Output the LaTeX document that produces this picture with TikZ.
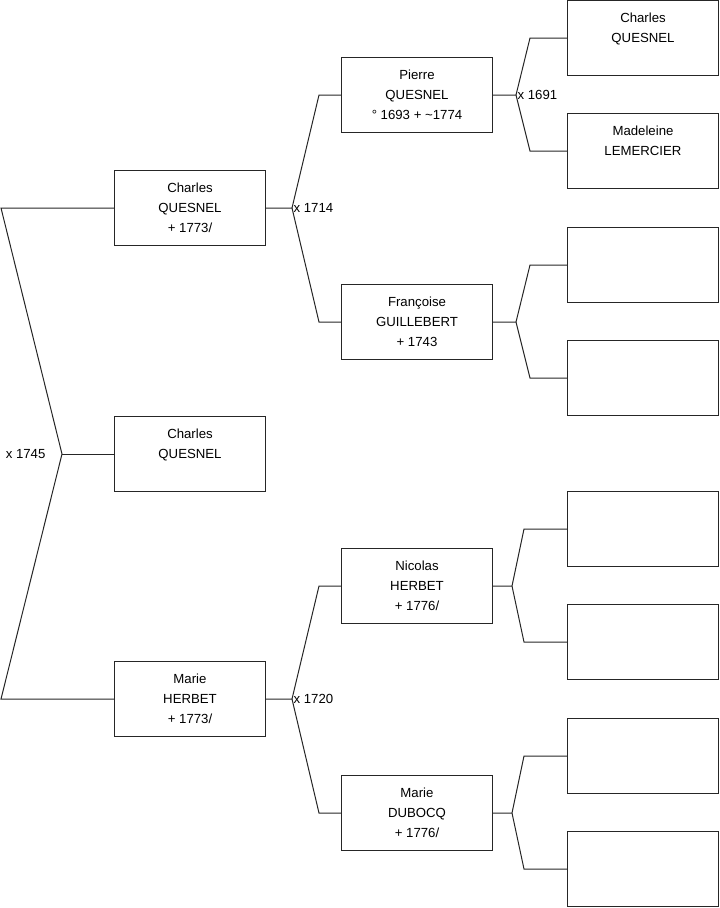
\documentclass[tikz,border=0pt]{standalone}
\usepackage{fontspec}
\setmainfont{Liberation Sans}
\usetikzlibrary{
    calc,
    positioning
}
\tikzset{
  person/.style={draw=black!85,line width=0.75pt,rectangle,inner sep=0pt,
    minimum width=113.25pt,minimum height=56.25pt,anchor=north west,
    align=center,font=\fontsize{9.9}{15}\selectfont},
  wedding/.style={anchor=west,inner sep=1pt,font=\fontsize{9.9}{15}\selectfont},
  link/.style={draw=black!85,line width=0.75pt}
}
\newcommand{\Couple}[5]{%
  \coordinate (#1v) at ($(#1.east)+(#4,0)$);
  \coordinate (#2e) at ($(#2.west)+(-#5,0)$);
  \coordinate (#3e) at ($(#3.west)+(-#5,0)$);
  \draw [link] (#1.east) -- (#1v) -- (#2e) -- (#2.west);
  \draw [link] (#1v) -- (#3e) -- (#3.west);
}

\begin{document}
\begin{tikzpicture}[x=0.75pt,y=-0.75pt]
\useasboundingbox (0,0) rectangle (719,908);
% generation 1 and 2
\node [person] (root) at (114,416) {Charles\\QUESNEL\\\phantom{+ 1773/}};
\node [person] (f) at (114,170) {Charles\\QUESNEL\\+ 1773/};
\node [person] (m) at (114,661) {Marie\\HERBET\\+ 1773/};
% generation 3
\node [person] (ff) at (341,57) {Pierre\\QUESNEL\\° 1693 + \textasciitilde1774};
\node [person] (fm) at (341,284) {Françoise\\GUILLEBERT\\+ 1743};
\node [person] (mf) at (341,548) {Nicolas\\HERBET\\+ 1776/};
\node [person] (mm) at (341,775) {Marie\\DUBOCQ\\+ 1776/};
% generation 4
\node [person] (fff) at (567,0) {Charles\\QUESNEL\\\phantom{+ 1773/}};
\node [person] (ffm) at (567,113) {Madeleine\\LEMERCIER\\\phantom{+ 1773/}};
\node [person] (fmf) at (567,227) {};
\node [person] (fmm) at (567,340) {};
\node [person] (mff) at (567,491) {};
\node [person] (mfm) at (567,604) {};
\node [person] (mmf) at (567,718) {};
\node [person] (mmm) at (567,831) {};
% root bracket
\coordinate (edge) at (1,0);
\coordinate (rootv) at ($(root.west)+(-52,0)$);
\draw [link] (f.west) -- (f.west -| edge) -- (rootv) -- (m.west -| edge) -- (m.west);
\draw [link] (rootv) -- (root.west);
\node [wedding,anchor=east] (rootx) at ($(rootv)+(-15,0)$) {x 1745};
% other couples
\Couple{f}{ff}{fm}{26}{22}
\Couple{m}{mf}{mm}{26}{22}
\Couple{ff}{fff}{ffm}{23}{37}
\Couple{fm}{fmf}{fmm}{23}{37}
\Couple{mf}{mff}{mfm}{19}{43}
\Couple{mm}{mmf}{mmm}{19}{43}
\node [wedding] (fx) at (fv) {x 1714};
\node [wedding] (mx) at (mv) {x 1720};
\node [wedding] (ffx) at (ffv) {x 1691};
\end{tikzpicture}
\end{document}
